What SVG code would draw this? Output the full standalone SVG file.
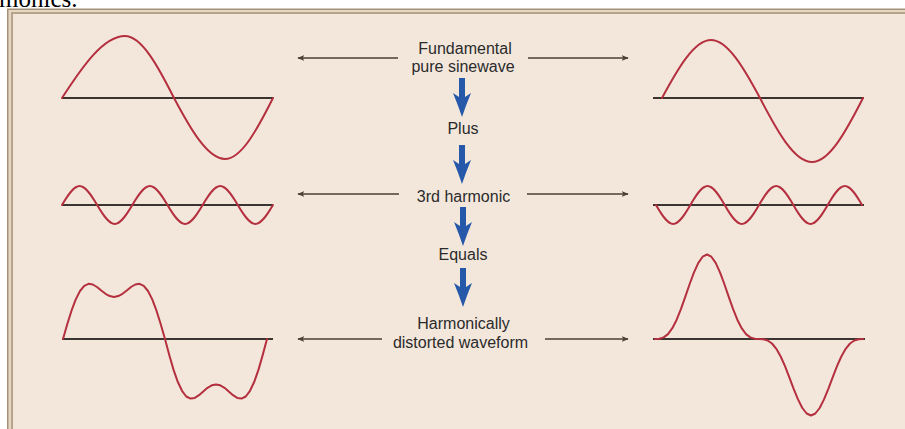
<svg xmlns="http://www.w3.org/2000/svg" width="905" height="429" viewBox="0 0 905 429">
<style>
.lbl{font-family:"Liberation Sans",Arial,sans-serif;font-size:16px;fill:#2b2b2b;text-anchor:middle}
.axis{stroke:#3a3531;stroke-width:2;fill:none}
.wave{stroke:#b5303e;stroke-width:2;fill:none;stroke-linejoin:round;stroke-linecap:round}
.gar{stroke:#4a3f36;stroke-width:1.3;fill:none;marker-end:url(#gh)}
</style>
<defs>
<marker id="gh" viewBox="0 0 10 8" refX="9" refY="4" markerWidth="7" markerHeight="6" orient="auto" markerUnits="userSpaceOnUse">
<path d="M0,0 L10,4 L0,8 L2.5,4 Z" fill="#4a3f36"/>
</marker>
<path id="blue" d="M-3,0 L3,0 L3,19 L9,15 Q4,27 0,39 Q-4,27 -9,15 L-3,19 Z" fill="#2558a8"/>
</defs>
<rect x="0" y="0" width="905" height="429" fill="#ffffff"/>
<text x="-1" y="7" font-family="'Liberation Serif','Times New Roman',serif" font-size="25" fill="#000">monics.</text>
<g id="frame">
<rect x="7" y="8.5" width="910" height="440" fill="#a69276"/>
<rect x="8.5" y="10" width="910" height="440" fill="#e4d7c4"/>
<rect x="11" y="12" width="910" height="440" fill="#b6a388"/>
<rect x="13" y="14" width="910" height="440" fill="#f3e7dc"/>
</g>
<g id="fund-left">
<line class="axis" x1="62" y1="98" x2="273" y2="98"/>
<path class="wave" d="M62,98 c20.54,-31.76 41.58,-62 63,-62 c16.66,0 33.03,30.24 49,62 c16.63,31.25 33.66,61 51,61 c16.32,0 32.35,-29.75 48,-61"/>
</g>
<g id="fund-right">
<line class="axis" x1="653" y1="98" x2="864" y2="98"/>
<path class="wave" d="M662,98 c15.98,-29.71 32.34,-58 49,-58 c16.66,0 33.03,28.29 49,58 c16.96,32.79 34.32,64 52,64 c17.34,0 34.37,-31.21 51,-64"/>
</g>
<g id="harm-left">
<line class="axis" x1="62" y1="205" x2="273" y2="205"/>
<path class="wave" d="M62,205 c5.73,-9.73 11.6,-19 17.58,-19 c5.98,0 11.85,9.27 17.58,19 c5.73,9.73 11.6,19 17.58,19 c5.98,0 11.85,-9.27 17.58,-19 c5.73,-9.73 11.6,-19 17.58,-19 c5.98,0 11.85,9.27 17.58,19 c5.73,9.73 11.6,19 17.58,19 c5.98,0 11.85,-9.27 17.58,-19 c5.73,-9.73 11.6,-19 17.58,-19 c5.98,0 11.85,9.27 17.58,19 c5.73,9.73 11.6,19 17.58,19 c5.98,0 11.85,-9.27 17.58,-19"/>
</g>
<g id="harm-right">
<line class="axis" x1="653" y1="205" x2="864" y2="205"/>
<path class="wave" d="M656,205 c5.6,9.73 11.33,19 17.17,19 c5.84,0 11.57,-9.27 17.17,-19 c5.6,-9.73 11.33,-19 17.17,-19 c5.84,0 11.57,9.27 17.17,19 c5.6,9.73 11.33,19 17.17,19 c5.84,0 11.57,-9.27 17.17,-19 c5.6,-9.73 11.33,-19 17.17,-19 c5.84,0 11.57,9.27 17.17,19 c5.6,9.73 11.33,19 17.17,19 c5.84,0 11.57,-9.27 17.17,-19 c5.6,-9.73 11.33,-19 17.17,-19 c5.84,0 11.57,9.27 17.17,19"/>
</g>
<g id="dist-left">
<line class="axis" x1="62" y1="339" x2="273" y2="339"/>
<polyline class="wave" points="63,339 67.25,324.3 71.5,310.7 75.75,299.4 80,291 84.25,285.8 88.5,283.8 92.75,284.5 97,287 101.25,290.5 105.5,293.8 109.75,296.1 114,297 118.25,296.1 122.5,293.8 126.75,290.5 131,287 135.25,284.5 139.5,283.8 143.75,285.8 148,291 152.25,299.4 156.5,310.7 160.75,324.3 165,339 169.25,354.9 173.5,369.6 177.75,381.8 182,390.8 186.25,396.5 190.5,398.6 194.75,397.9 199,395.2 203.25,391.4 207.5,387.8 211.75,385.3 216,384.4 220.25,385.3 224.5,387.8 228.75,391.4 233,395.2 237.25,397.9 241.5,398.6 245.75,396.5 250,390.8 254.25,381.8 258.5,369.6 262.75,354.9 267,339"/>
</g>
<g id="dist-right">
<line class="axis" x1="653" y1="339" x2="865" y2="339"/>
<polyline class="wave" points="655,339 659.33,338.7 663.67,337.4 668,334.1 672.33,328.2 676.67,319.7 681,308.9 685.33,296.6 689.67,284 694,272.3 698.33,262.9 702.67,256.7 707,254.5 711.33,256.7 715.67,262.9 720,272.3 724.33,284 728.67,296.6 733,308.9 737.33,319.7 741.67,328.2 746,334.1 750.33,337.4 754.67,338.7 759,339 763.33,339.2 767.67,340.5 772,343.5 776.33,348.8 780.67,356.5 785,366.2 789.33,377.4 793.67,388.8 798,399.4 802.33,408 806.67,413.5 811,415.5 815.33,413.5 819.67,408 824,399.4 828.33,388.8 832.67,377.4 837,366.2 841.33,356.5 845.67,348.8 850,343.5 854.33,340.5 858.67,339.2 863,339"/>
</g>
<g id="label-fundamental">
<text class="lbl" x="465" y="54">Fundamental</text>
<text class="lbl" x="463" y="72">pure sinewave</text>
</g>
<g id="label-plus"><text class="lbl" x="463" y="134">Plus</text></g>
<g id="label-3rd"><text class="lbl" x="463.5" y="202">3rd harmonic</text></g>
<g id="label-equals"><text class="lbl" x="463" y="260">Equals</text></g>
<g id="label-distorted">
<text class="lbl" x="463.5" y="329">Harmonically</text>
<text class="lbl" x="460.5" y="348">distorted waveform</text>
</g>
<g id="connectors">
<line class="gar" x1="398" y1="58" x2="298" y2="58"/>
<line class="gar" x1="528" y1="58" x2="628" y2="58"/>
<line class="gar" x1="399" y1="194" x2="298" y2="194"/>
<line class="gar" x1="527" y1="194" x2="628" y2="194"/>
<line class="gar" x1="382" y1="339" x2="298" y2="339"/>
<line class="gar" x1="545" y1="339" x2="628" y2="339"/>
<use href="#blue" x="462" y="78"/>
<use href="#blue" x="462" y="145"/>
<use href="#blue" x="463" y="207"/>
<use href="#blue" x="463" y="268"/>
</g>
</svg>
